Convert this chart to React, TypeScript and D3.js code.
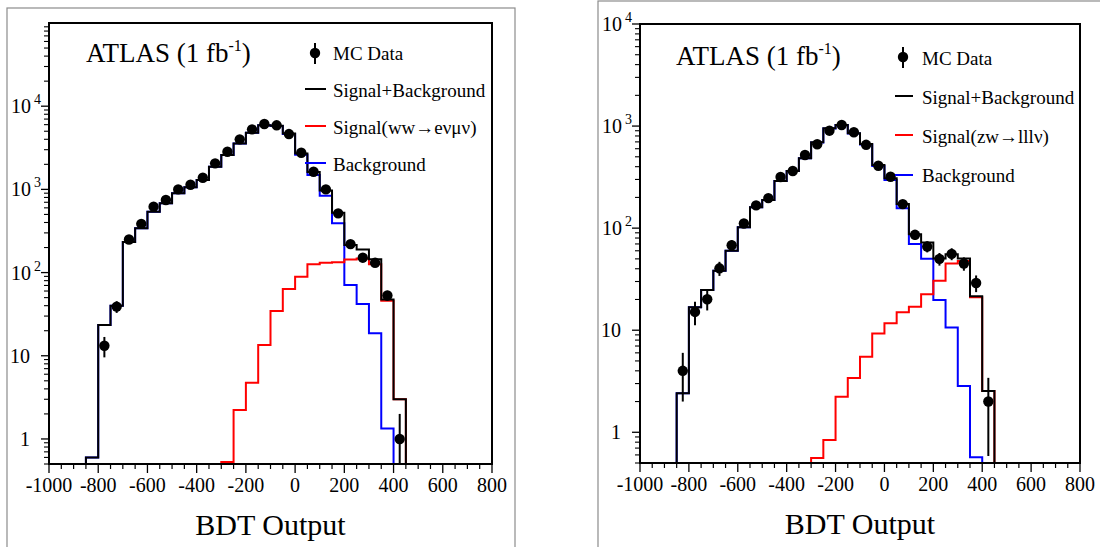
import React from 'react';
import * as d3 from 'd3';

// Bin low edges (bin width 50)
const binLow = [-850, -800, -750, -700, -650, -600, -550, -500, -450, -400, -350, -300, -250,
  -200, -150, -100, -50, 0, 50, 100, 150, 200, 250, 300, 350, 400];
const binWidth = 50;

// Left panel: WW -> e nu mu nu
const sigLeft = [0, 0, 0, 0, 0, 0, 0, 0, 0, 0, 0, 0.53, 2.23, 4.74, 13.5, 34.5, 63.4, 89, 126, 131, 133, 144, 148, 126, 46, 3.0];
const bkgLeft = [0.6, 23.5, 40, 233, 341, 538, 680, 897, 1060, 1295, 1870, 2590, 3570, 4795, 5890, 5770, 4640, 2610, 1490, 840, 391, 71, 42, 18.6, 1.34, 0];
const dataLeft = [0, 13.2, 39, 250, 385, 620, 745, 1000, 1137, 1380, 2056, 2837, 3993, 5270, 6100, 5890, 4624, 2760, 1630, 1000, 515, 220, 151, 131, 53, 1.0];

// Right panel: ZW -> l l l nu
const sigRight = [0, 0, 0, 0, 0, 0, 0, 0, 0, 0, 0, 0.56, 0.84, 2.23, 3.4, 5.5, 9.3, 11.7, 15, 17, 22.5, 30.5, 45, 47.6, 21, 2.54];
const bkgRight = [2.41, 16.8, 24.8, 38.3, 60, 102, 160, 189, 290, 363, 483, 692, 949, 1022, 846, 661, 406, 296, 157, 70, 50, 19.8, 10.6, 2.84, 0.57, 0];
const dataRight = [4.0, 15.1, 20.1, 40.4, 68, 111, 167, 197, 317, 363, 521, 663, 901, 1024, 869, 655, 409, 319, 172, 86, 66, 50, 56, 45, 29, 2.0];

const xMajorTicks = [-1000, -800, -600, -400, -200, 0, 200, 400, 600, 800];
const xTickLabels = ['-1000', '-800', '-600', '-400', '-200', '0', '200', '400', '600', '800'];
const yDecades = [1, 10, 100, 1000, 10000];

const FONT = '"Liberation Serif", "DejaVu Serif", serif';

type PanelCfg = {
  key: string;
  gray: [number, number, number, number];
  x0: number; x1: number; yTop: number; yBot: number;
  yMax: number;
  sig: number[]; bkg: number[]; data: number[];
  sigLabel: string;
  atlas: [number, number];
  leg: { mx: number; my: number; tx: number; lx0: number; lx1: number; ly: number[]; tb: number[] };
};

const panels: PanelCfg[] = [
  {
    key: 'L', gray: [7, 8, 508, 560], x0: 49, x1: 492, yTop: 23, yBot: 464, yMax: 1e5,
    sig: sigLeft, bkg: bkgLeft, data: dataLeft, sigLabel: 'Signal(ww\u2192e\u03BD\u03BC\u03BD)',
    atlas: [86, 62],
    leg: { mx: 315, my: 53, tx: 333, lx0: 305, lx1: 326, ly: [89, 126, 163], tb: [60, 97, 134, 171] },
  },
  {
    key: 'R', gray: [598, 1, 520, 560], x0: 640, x1: 1080, yTop: 24, yBot: 463, yMax: 1e4,
    sig: sigRight, bkg: bkgRight, data: dataRight, sigLabel: 'Signal(zw\u2192lll\u03BD)',
    atlas: [676, 65],
    leg: { mx: 903, my: 57, tx: 922, lx0: 895, lx1: 913, ly: [96, 135, 175], tb: [65, 104, 143, 182] },
  },
];

function histPath(vals: number[], x: d3.ScaleLinear<number, number>, y: d3.ScaleLogarithmic<number, number>, yBot: number) {
  let first = -1, last = -1;
  vals.forEach((v, i) => { if (v > 0) { if (first < 0) first = i; last = i; } });
  if (first < 0) return '';
  const p = d3.path();
  p.moveTo(x(binLow[first]), yBot);
  for (let i = first; i <= last; i++) {
    const yy = vals[i] > 0 ? Math.min(y(vals[i]), yBot) : yBot;
    p.lineTo(x(binLow[i]), yy);
    p.lineTo(x(binLow[i] + binWidth), yy);
  }
  p.lineTo(x(binLow[last] + binWidth), yBot);
  return p.toString();
}

function Panel({ c }: { c: PanelCfg }) {
  const x = d3.scaleLinear().domain([-1000, 800]).range([c.x0, c.x1]);
  const y = d3.scaleLog().domain([0.5, c.yMax]).range([c.yBot, c.yTop]);
  const total = c.bkg.map((b, i) => b + c.sig[i]);
  const clipId = 'clip' + c.key;

  const xMinor = d3.range(-1000, 801, 50).filter((v) => !xMajorTicks.includes(v));
  const yMinor: number[] = [];
  [0.1, 1, 10, 100, 1000, 10000].forEach((d) => {
    for (let k = 2; k <= 9; k++) {
      const v = k * d;
      if (v >= 0.5 && v <= c.yMax) yMinor.push(v);
    }
  });

  const yLabel = (v: number) => {
    const ty = y(v);
    if (v === 1) return <text key={v} x={c.x0 - 29} y={ty + 7} fontSize={20}>1</text>;
    if (v === 10) return <text key={v} x={c.x0 - 39} y={ty + 7} fontSize={20}>10</text>;
    const e = Math.round(Math.log10(v));
    return (
      <text key={v} x={c.x0 - 38} y={ty + 7} fontSize={20}>
        10<tspan dx={3} dy={-9} fontSize={14}>{e}</tspan>
      </text>
    );
  };

  const L = c.leg;
  return (
    <g fontFamily={FONT} fill="#000">
      <rect x={c.gray[0]} y={c.gray[1]} width={c.gray[2]} height={c.gray[3]} fill="#fff" stroke="#8c8c8c" strokeWidth={1.2} />
      <defs>
        <clipPath id={clipId}>
          <rect x={c.x0} y={c.yTop} width={c.x1 - c.x0} height={c.yBot - c.yTop} />
        </clipPath>
      </defs>
      <g clipPath={`url(#${clipId})`} fill="none" strokeWidth={2}>
        <path d={histPath(c.bkg, x, y, c.yBot)} stroke="#0000ff" />
        <path d={histPath(c.sig, x, y, c.yBot)} stroke="#ff0000" />
        <path d={histPath(total, x, y, c.yBot)} stroke="#000" />
      </g>
      <g clipPath={`url(#${clipId})`}>
        {c.data.map((v, i) => {
          if (v <= 0) return null;
          const cx = x(binLow[i] + binWidth / 2);
          const err = Math.sqrt(v);
          const lo = v - err > 0.5 ? y(v - err) : c.yBot;
          const hi = y(v + err);
          return (
            <g key={i}>
              <line x1={cx} x2={cx} y1={lo} y2={hi} stroke="#000" strokeWidth={2} />
              <circle cx={cx} cy={y(v)} r={5.2} fill="#000" />
            </g>
          );
        })}
      </g>
      {/* frame */}
      <rect x={c.x0} y={c.yTop} width={c.x1 - c.x0} height={c.yBot - c.yTop} fill="none" stroke="#000" strokeWidth={2} />
      {/* x ticks */}
      {xMajorTicks.map((v, i) => (
        <g key={v}>
          <line x1={x(v)} x2={x(v)} y1={c.yBot} y2={c.yBot + 9} stroke="#000" strokeWidth={1.3} />
          <text x={x(v)} y={c.yBot + 28} fontSize={20} textAnchor="middle">{xTickLabels[i]}</text>
        </g>
      ))}
      {xMinor.map((v) => (
        <line key={v} x1={x(v)} x2={x(v)} y1={c.yBot} y2={c.yBot + 5} stroke="#000" strokeWidth={1.2} />
      ))}
      {/* y ticks */}
      {yDecades.map((v) => (
        <g key={v}>
          <line x1={c.x0 - 8} x2={c.x0} y1={y(v)} y2={y(v)} stroke="#000" strokeWidth={1.3} />
          {yLabel(v)}
        </g>
      ))}
      {yMinor.map((v) => (
        <line key={v} x1={c.x0 - 5} x2={c.x0} y1={y(v)} y2={y(v)} stroke="#000" strokeWidth={1.1} />
      ))}
      {/* axis title */}
      <text x={(c.x0 + c.x1) / 2} y={c.yBot + 71} fontSize={30} textAnchor="middle">BDT Output</text>
      {/* ATLAS label */}
      <text x={c.atlas[0]} y={c.atlas[1]} fontSize={27}>
        ATLAS (1 fb<tspan dy={-11} fontSize={16}>-1</tspan><tspan dy={11}>)</tspan>
      </text>
      {/* legend */}
      <line x1={L.mx} x2={L.mx} y1={L.my - 10} y2={L.my + 11} stroke="#000" strokeWidth={2} />
      <circle cx={L.mx} cy={L.my} r={5.2} fill="#000" />
      <text x={L.tx} y={L.tb[0]} fontSize={19}>MC Data</text>
      <line x1={L.lx0} x2={L.lx1} y1={L.ly[0]} y2={L.ly[0]} stroke="#000" strokeWidth={2} />
      <text x={L.tx} y={L.tb[1]} fontSize={19}>Signal+Background</text>
      <line x1={L.lx0} x2={L.lx1} y1={L.ly[1]} y2={L.ly[1]} stroke="#ff0000" strokeWidth={2} />
      <text x={L.tx} y={L.tb[2]} fontSize={19}>{c.sigLabel}</text>
      <line x1={L.lx0} x2={L.lx1} y1={L.ly[2]} y2={L.ly[2]} stroke="#0000ff" strokeWidth={2} />
      <text x={L.tx} y={L.tb[3]} fontSize={19}>Background</text>
    </g>
  );
}

export default function App() {
  return (
    <svg width={1100} height={547} style={{ position: 'absolute', left: 0, top: 0, background: '#fff' }}>
      <rect x={0} y={0} width={1100} height={547} fill="#fff" />
      {panels.map((p) => <Panel key={p.key} c={p} />)}
    </svg>
  );
}
